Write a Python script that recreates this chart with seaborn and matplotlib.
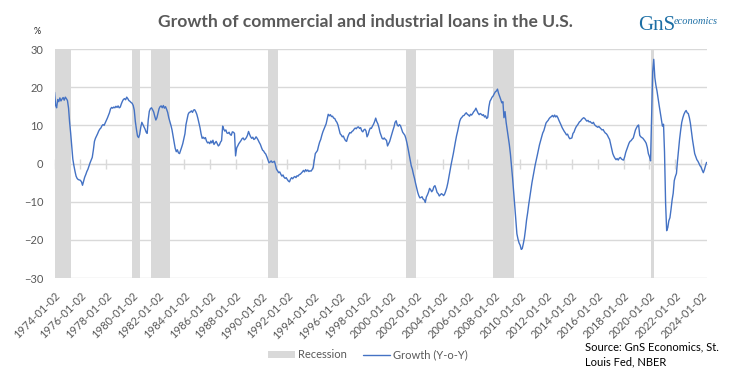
import numpy as np
import pandas as pd
import matplotlib
matplotlib.use('Agg')
import matplotlib.pyplot as plt
import matplotlib.dates as mdates
from matplotlib.patches import Patch
from matplotlib.lines import Line2D
import seaborn as sns

# monthly YoY growth of C&I loans, % (1974-01 .. 2024-06)
growth_1970s = [
    18.7, 15.2, 14.6, 16.8, 16.2, 17.2, 16.4, 16.9, 17.3, 16.6, 17.4, 17.0,
    16.5, 14.5, 11.0, 8.0, 4.5, 1.2, -0.5, -2.0, -3.3, -3.9, -4.2, -4.3,
    -4.4, -4.8, -5.7, -4.6, -3.6, -2.9, -2.1, -1.5, -0.6, 0.2, 0.9, 1.6,
    3.5, 5.8, 6.6, 7.2, 7.8, 8.5, 9.0, 9.3, 9.9, 10.2, 10.0, 10.6,
    11.2, 11.9, 12.6, 13.3, 14.3, 14.7, 14.5, 14.8, 14.6, 15.0, 14.7, 15.1,
    14.6, 14.8, 15.6, 16.3, 16.8, 17.0, 16.7, 17.4, 17.0, 16.5, 16.3, 16.0,
]
growth_1980s = [
    15.8, 15.2, 14.0, 11.0, 9.0, 7.2, 6.8, 7.6, 9.5, 10.8, 10.2, 9.6,
    9.0, 8.2, 7.9, 11.5, 13.7, 14.4, 14.6, 14.1, 13.5, 12.4, 11.4, 12.0,
    13.2, 14.4, 14.9, 15.1, 14.6, 15.2, 14.5, 14.9, 14.2, 13.4, 12.0, 11.0,
    10.0, 8.8, 7.2, 5.6, 4.0, 3.1, 3.6, 2.8, 2.6, 3.4, 4.3, 5.2,
    6.5, 7.8, 10.2, 11.6, 12.9, 13.4, 13.5, 13.8, 13.4, 14.0, 14.1, 13.6,
    12.9, 11.8, 10.6, 9.4, 7.8, 6.6, 6.9, 6.5, 6.8, 5.9, 5.4, 5.6,
    5.2, 5.9, 5.4, 6.1, 5.0, 5.4, 5.8, 5.2, 4.6, 4.9, 5.6, 6.0,
    9.8, 9.0, 8.5, 8.8, 8.0, 7.9, 8.2, 7.6, 7.4, 8.3, 8.2, 7.9,
    2.0, 4.1, 4.6, 5.2, 5.6, 6.0, 6.5, 6.7, 6.2, 6.4, 6.8, 7.4,
    8.4, 7.6, 7.0, 6.6, 6.9, 6.3, 6.5, 7.0, 6.6, 6.1, 5.5, 5.0,
]
growth_1990s = [
    4.2, 3.5, 3.3, 2.8, 2.5, 1.8, 1.0, 0.2, 0.4, 0.7, 0.3, 0.4,
    0.6, -0.4, -1.5, -1.9, -2.4, -2.2, -2.8, -3.3, -3.0, -3.6, -3.9, -3.7,
    -4.2, -4.6, -4.8, -4.1, -3.7, -4.0, -3.6, -3.4, -3.7, -3.2, -3.3, -2.9,
    -2.8, -2.5, -2.2, -1.8, -2.2, -1.6, -2.0, -1.7, -2.1, -1.9, -2.0, -1.6,
    -1.0, 0.8, 2.6, 3.0, 3.4, 4.6, 5.6, 6.3, 7.4, 8.3, 9.0, 9.7,
    10.4, 11.7, 12.9, 12.5, 12.8, 12.3, 12.4, 11.9, 11.8, 11.2, 10.8, 10.1,
    8.9, 7.8, 7.5, 7.0, 7.2, 6.5, 6.0, 5.8, 6.9, 7.6, 8.1, 8.0,
    8.4, 8.6, 9.0, 9.3, 9.1, 9.5, 9.6, 9.2, 9.4, 8.6, 8.3, 8.8,
    9.0, 8.5, 7.0, 7.6, 8.6, 9.3, 9.2, 9.8, 10.3, 11.0, 11.9, 11.0,
    10.4, 9.4, 8.2, 7.4, 6.6, 6.4, 6.7, 6.3, 6.1, 4.6, 5.2, 5.8,
]
growth_2000s = [
    6.8, 7.9, 8.7, 9.6, 10.8, 11.2, 10.1, 9.8, 10.2, 9.9, 9.0, 8.2,
    7.8, 7.4, 6.6, 5.4, 4.0, 2.4, 1.0, -0.6, -1.5, -2.8, -3.9, -5.2,
    -6.4, -7.6, -8.4, -9.0, -8.9, -8.7, -9.3, -9.5, -10.2, -8.8, -8.2, -7.5,
    -6.5, -6.9, -7.4, -7.0, -6.1, -5.8, -6.6, -7.6, -7.9, -8.5, -8.2, -7.9,
    -8.1, -8.4, -8.0, -7.2, -6.3, -5.0, -3.4, -1.6, -0.2, 1.2, 2.6, 4.2,
    5.8, 7.3, 8.4, 9.8, 11.1, 11.8, 12.1, 12.5, 12.6, 13.0, 13.3, 12.9,
    12.7, 12.4, 12.9, 12.7, 13.1, 13.6, 13.9, 14.5, 13.8, 13.2, 12.8, 13.1,
    12.9, 12.6, 12.8, 12.2, 12.5, 11.8, 12.1, 14.8, 16.3, 16.8, 17.4, 17.7,
    18.3, 18.8, 19.0, 19.5, 18.4, 17.6, 16.8, 15.9, 16.2, 12.0, 13.6, 10.8,
    8.8, 7.0, 5.0, 2.5, -0.5, -3.8, -7.2, -11.0, -14.8, -18.4, -19.8, -20.8,
]
growth_2010s = [
    -21.4, -22.5, -22.3, -21.0, -19.5, -17.3, -14.8, -12.9, -10.7, -8.8, -6.9, -5.0,
    -3.4, -1.8, -0.4, 0.9, 2.2, 3.6, 4.9, 6.0, 7.0, 8.0, 8.6, 9.6,
    10.6, 11.0, 11.3, 11.8, 12.1, 12.3, 12.6, 12.2, 12.7, 12.2, 12.5, 12.0,
    11.3, 10.7, 10.1, 9.4, 8.9, 8.4, 8.0, 7.5, 7.7, 7.0, 6.5, 6.6,
    6.7, 7.9, 8.2, 9.0, 9.6, 10.0, 10.4, 10.9, 11.1, 11.5, 11.8, 12.0,
    11.8, 11.4, 11.1, 11.3, 10.9, 11.0, 10.7, 10.5, 10.8, 10.2, 9.9, 9.7,
    9.5, 9.7, 9.4, 9.1, 8.8, 8.9, 8.4, 8.0, 7.8, 7.4, 6.8, 6.3,
    5.0, 3.8, 2.6, 1.9, 1.4, 1.0, 1.3, 0.9, 1.4, 1.6, 1.2, 1.0,
    0.9, 1.8, 2.9, 3.7, 4.5, 5.3, 5.8, 6.0, 6.4, 6.7, 7.8, 8.8,
    9.4, 9.9, 10.1, 7.4, 7.0, 6.8, 6.6, 6.2, 5.8, 5.3, 4.2, 2.6,
]
growth_2020s = [
    1.8, 0.7, 11.5, 24.0, 27.3, 22.5, 20.5, 19.0, 17.0, 15.2, 13.4, 11.8,
    9.8, 10.3, 3.0, -10.5, -17.6, -16.8, -15.0, -14.2, -12.0, -9.6, -7.8, -4.5,
    -3.4, -2.6, 0.5, 3.5, 6.4, 8.8, 10.8, 12.0, 12.9, 13.5, 13.9, 13.3,
    13.1, 12.0, 10.6, 8.4, 6.2, 4.3, 2.6, 1.8, 1.0, 0.6, 0.0, -0.6,
    -1.0, -1.8, -2.4, -1.6, -0.6, 0.3,
]

# NBER recessions
rec_start = ['1973-11-01', '1980-01-01', '1981-07-01', '1990-07-01',
             '2001-03-01', '2007-12-01', '2020-02-01']
rec_end = ['1975-03-31', '1980-07-31', '1982-11-30', '1991-03-31',
           '2001-11-30', '2009-06-30', '2020-04-30']

tick_years = list(range(1974, 2025, 2))
tick_labels = [f'{y}-01-02' for y in tick_years]

growth = growth_1970s + growth_1980s + growth_1990s + growth_2000s + growth_2010s + growth_2020s
df = pd.DataFrame({
    'date': pd.date_range('1974-01-01', periods=len(growth), freq='MS'),
    'growth': growth,
})

sns.set_style('white')
plt.rcParams['font.family'] = ['Lato', 'DejaVu Sans']

grey_txt = '#595959'
grid_c = '#d9d9d9'
blue = '#4472c4'

fig = plt.figure(figsize=(7.32, 3.76), dpi=100)
ax = fig.add_axes([0.0745, 0.2606, 0.8915, 0.609])

for s, e in zip(rec_start, rec_end):
    ax.axvspan(pd.Timestamp(s), pd.Timestamp(e), color=grid_c, lw=0, zorder=1)

sns.lineplot(data=df, x='date', y='growth', color=blue, lw=1.0, ax=ax, zorder=3)

ax.set_ylim(-30, 30)
ax.set_yticks(range(-30, 31, 10))
ax.set_xlim(df['date'].iloc[0], df['date'].iloc[-1] + pd.Timedelta(days=15))
ax.grid(axis='y', color=grid_c, lw=1)
ax.grid(axis='x', visible=False)
for sp in ax.spines.values():
    sp.set_visible(False)

tick_dates = pd.to_datetime(tick_labels)
ax.set_xticks(tick_dates)
ax.set_xticklabels(tick_labels, rotation=45, ha='right', rotation_mode='anchor')
ax.tick_params(axis='x', length=0, pad=9, labelsize=8, labelcolor=grey_txt)
ax.tick_params(axis='y', length=0, pad=8, labelsize=8, labelcolor=grey_txt)
ax.set_xlabel('')
ax.set_ylabel('')

# horizontal axis with tick marks crossing the zero line
sec = ax.secondary_xaxis(0.5)
sec.set_xticks(mdates.date2num(tick_dates), labels=[''] * len(tick_dates))
sec.tick_params(direction='inout', length=7, width=1, color=grid_c,
                labelbottom=False, labeltop=False)
for sp in sec.spines.values():
    sp.set_color(grid_c)

fig.text(0.4986, 1 - 22 / 376, 'Growth of commercial and industrial loans in the U.S.',
         ha='center', va='center', fontsize=12.6, weight='bold', color=grey_txt)
fig.text(37 / 732, 1 - 32 / 376, '%', ha='center', va='center', fontsize=6.5)

fig.text(638 / 732, 1 - 25 / 376, 'GnS', family='Liberation Serif', fontsize=15,
         color='#1d6fa5', va='center')
fig.text(674 / 732, 1 - 22 / 376, 'economics', family='Liberation Serif', style='italic',
         fontsize=7.5, color='#1d6fa5', va='center')

handles = [Patch(facecolor=grid_c, edgecolor='none'), Line2D([], [], color=blue, lw=1)]
fig.legend(handles, ['Recession', 'Growth (Y-o-Y)'], loc='center',
           bbox_to_anchor=(368 / 732, 1 - 355 / 376), ncol=2, frameon=False,
           fontsize=8, labelcolor=grey_txt, handlelength=2.4, handleheight=0.5,
           columnspacing=1.5, handletextpad=0.3)

fig.text(585 / 732, 1 - 341 / 376, 'Source: GnS Economics, St.\nLouis Fed, NBER',
         ha='left', va='top', fontsize=8, linespacing=1.45, color='black')

fig.savefig('out.png', dpi=100)
